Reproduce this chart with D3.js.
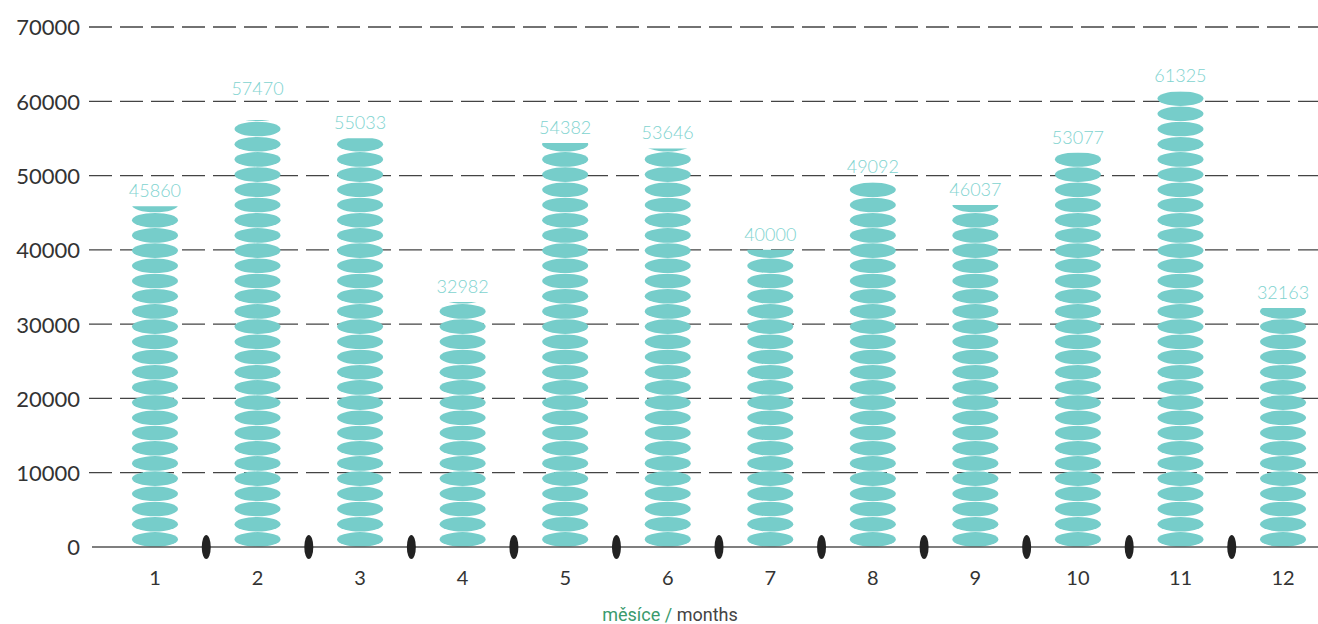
<!DOCTYPE html>
<html>
<head>
<meta charset="utf-8">
<script src="https://cdn.jsdelivr.net/npm/d3@7"></script>
<style>
  html, body { margin: 0; padding: 0; background: #fff; }
  svg { display: block; }
</style>
</head>
<body>
<svg id="chart" width="1318" height="624"></svg>
<script>
// Monthly totals, drawn as stacks of coins
const months = ["1", "2", "3", "4", "5", "6", "7", "8", "9", "10", "11", "12"];
const values = [45860, 57470, 55033, 32982, 54382, 53646, 40000, 49092, 46037, 53077, 61325, 32163];
const yTicks = [0, 10000, 20000, 30000, 40000, 50000, 60000, 70000];
const axisTitleCz = "měsíce";
const axisTitleEn = "months";

const W = 1318, H = 624;
const svg = d3.select("#chart");

const x = d3.scaleBand().domain(months).range([103.7, 1334.3]).paddingInner(0).paddingOuter(0);
const y = d3.scaleLinear().domain([0, 70000]).range([547, 27]);

const coinColor = "#76cdca";
const labelColor = "#7ed3cf";
const coinRx = 23, coinRy = 7.3, coinStep = 15.2;

// Horizontal dashed grid lines with tick labels
const yAxis = d3.axisLeft(y).tickValues(yTicks).tickSize(0).tickPadding(0).tickFormat(d3.format("d"));
const gy = svg.append("g").attr("transform", "translate(80,0)").call(yAxis);
gy.select(".domain").remove();
gy.selectAll(".tick text")
  .attr("x", 0)
  .attr("dy", "0.36em")
  .attr("fill", "#333")
  .style("font-family", "Lato, 'Open Sans', sans-serif")
  .style("font-weight", 400)
  .style("font-size", "22px");

const gridValues = yTicks.filter(d => d > 0);
svg.append("g").selectAll("line.grid")
  .data(gridValues)
  .join("line")
  .attr("class", "grid")
  .attr("x1", 89).attr("x2", W)
  .attr("y1", d => y(d)).attr("y2", d => y(d))
  .attr("stroke", "#444")
  .attr("stroke-width", 1.3)
  .attr("stroke-dasharray", "23 8");

// Coin stacks clipped at each month's value
const defs = svg.append("defs");
months.forEach((m, i) => {
  defs.append("clipPath").attr("id", "clip" + i)
    .append("rect")
    .attr("x", x(m))
    .attr("width", x.bandwidth())
    .attr("y", y(values[i]))
    .attr("height", y(0) - y(values[i]));
});

const bars = svg.append("g").selectAll("g.bar")
  .data(months.map((m, i) => ({ m, v: values[i], i })))
  .join("g")
  .attr("class", "bar")
  .attr("clip-path", d => `url(#clip${d.i})`);

bars.each(function (d) {
  const cx = x(d.m) + x.bandwidth() / 2;
  const n = Math.ceil((y(0) - y(d.v)) / coinStep);
  d3.select(this).selectAll("ellipse")
    .data(d3.range(n))
    .join("ellipse")
    .attr("cx", cx)
    .attr("cy", k => y(0) - coinRy - 0.3 - k * coinStep)
    .attr("rx", coinRx)
    .attr("ry", coinRy)
    .attr("fill", coinColor);
});

// Value labels above each stack; a label that would sit on a grid line is lifted above it
const labelGap = 9, labelCap = 13;
function labelBaseline(v) {
  const base = y(v) - labelGap;
  const hit = gridValues.map(y).find(g => g > base - labelCap - 2 && g < base + 2);
  return hit === undefined ? base : hit - 6;
}

svg.append("g").selectAll("text.value")
  .data(months.map((m, i) => ({ m, v: values[i] })))
  .join("text")
  .attr("class", "value")
  .attr("x", d => x(d.m) + x.bandwidth() / 2)
  .attr("y", d => labelBaseline(d.v))
  .attr("text-anchor", "middle")
  .attr("fill", labelColor)
  .style("font-family", "Lato, 'Open Sans', sans-serif")
  .style("font-weight", 300)
  .style("font-size", "18px")
  .text(d => d.v);

// Baseline
svg.append("line")
  .attr("x1", 92).attr("x2", W)
  .attr("y1", y(0)).attr("y2", y(0))
  .attr("stroke", "#555")
  .attr("stroke-width", 1.3);

// Dark separators between months
svg.append("g").selectAll("ellipse.sep")
  .data(months.slice(1))
  .join("ellipse")
  .attr("class", "sep")
  .attr("cx", d => x(d))
  .attr("cy", y(0))
  .attr("rx", 4.5)
  .attr("ry", 12)
  .attr("fill", "#222");

// Month labels
const xAxis = d3.axisBottom(x).tickSize(0).tickPadding(0);
const gx = svg.append("g").attr("transform", `translate(0,${y(0)})`).call(xAxis);
gx.select(".domain").remove();
gx.selectAll(".tick text")
  .attr("y", 38)
  .attr("dy", 0)
  .attr("fill", "#333")
  .style("font-family", "Lato, 'Open Sans', sans-serif")
  .style("font-weight", 400)
  .style("font-size", "20px");

// Axis title
const title = svg.append("text")
  .attr("x", 670)
  .attr("y", 621)
  .attr("text-anchor", "middle")
  .style("font-family", "'Liberation Sans Narrow', 'Roboto', sans-serif")
  .style("font-size", "18px");
title.append("tspan").attr("fill", "#3a9a6c").text(axisTitleCz + " / ");
title.append("tspan").attr("fill", "#444").text(axisTitleEn);
</script>
</body>
</html>
